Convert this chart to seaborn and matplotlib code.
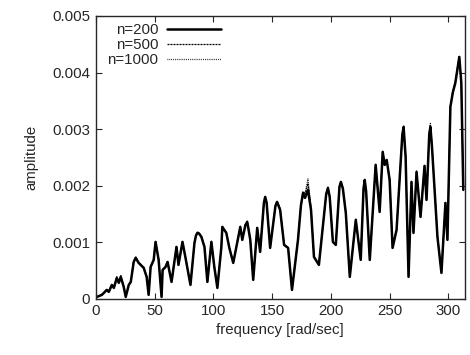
import numpy as np
import pandas as pd
import matplotlib
matplotlib.use("Agg")
import matplotlib.pyplot as plt
import seaborn as sns

# frequency [rad/sec] sample points
freq = [0.8, 5.1, 9.3, 11.0, 13.6, 15.3, 17.8, 19.5, 21.2, 23.7, 25.4, 28.0, 29.7,
        32.2, 33.9, 36.4, 40.7, 43.2, 44.9, 46.6, 49.2, 50.8, 53.4, 55.9, 56.8,
        59.3, 61.0, 64.4, 68.6, 70.3, 73.7, 76.3, 80.5, 83.9, 85.2, 86.4, 88.0,
        89.8, 92.4, 94.9, 98.3, 100.8, 103.4, 106.8, 107.6, 108.9, 111.0, 113.6,
        116.9, 122.9, 124.6, 127.2, 128.8, 130.0, 131.4, 133.9, 137.3, 139.8,
        143.0, 144.1, 145.3, 148.3, 152.8, 154.2, 156.8, 160.2, 163.6, 166.9,
        172.0, 174.5, 176.3, 178.0, 180.5, 183.1, 185.6, 189.8, 196.0, 197.5,
        199.0, 201.7, 204.2, 207.3, 208.5, 210.2, 212.7, 216.1, 221.2, 225.4,
        227.8, 228.8, 230.0, 233.1, 238.1, 241.5, 244.1, 245.8, 247.5, 250.0,
        252.5, 255.9, 260.8, 261.9, 263.6, 266.1, 268.6, 270.3, 272.9, 276.3,
        279.7, 281.4, 283.7, 284.7, 286.0, 290.7, 294.1, 297.5, 299.2, 301.7,
        303.8, 305.9, 309.3, 311.0, 312.7]

amp_200 = [0.000035, 0.000071, 0.000159, 0.000124, 0.000247, 0.000194, 0.000371, 0.000283,
           0.000389, 0.000212, 0.000035, 0.000247, 0.000300, 0.000654, 0.000724, 0.000636,
           0.000548, 0.000389, 0.000071, 0.000565, 0.000689, 0.001007, 0.000689, 0.000035,
           0.000512, 0.000565, 0.000654, 0.000300, 0.000919, 0.000601, 0.001007, 0.000724,
           0.000247, 0.000989, 0.001120, 0.001166, 0.001150, 0.001095, 0.000919, 0.000300,
           0.001007, 0.000565, 0.000194, 0.000919, 0.001272, 0.001230, 0.001166, 0.000900,
           0.000636, 0.001272, 0.001043, 0.001300, 0.001361, 0.001220, 0.001043, 0.000336,
           0.001255, 0.000831, 0.001700, 0.001802, 0.001700, 0.000901, 0.001640, 0.001714,
           0.001573, 0.000954, 0.000901, 0.000159, 0.001043, 0.001650, 0.001873, 0.001785,
           0.001926, 0.001573, 0.000742, 0.000601, 0.001850, 0.001961, 0.001800, 0.001007,
           0.000954, 0.001980, 0.002067, 0.001950, 0.001520, 0.000389, 0.001396, 0.000690,
           0.001950, 0.002103, 0.001900, 0.000689, 0.002368, 0.001537, 0.002598, 0.002368,
           0.002456, 0.002103, 0.000901, 0.001219, 0.002900, 0.003039, 0.002509, 0.000389,
           0.002067, 0.001166, 0.002244, 0.001449, 0.002350, 0.001749, 0.002900, 0.003039,
           0.002700, 0.001095, 0.000459, 0.001696, 0.001043, 0.003392, 0.003650, 0.003816,
           0.004276, 0.003816, 0.001926]

amp_500 = [0.000035, 0.000075, 0.000165, 0.000130, 0.000255, 0.000200, 0.000385, 0.000295,
           0.000410, 0.000220, 0.000040, 0.000250, 0.000305, 0.000665, 0.000740, 0.000645,
           0.000555, 0.000395, 0.000075, 0.000570, 0.000695, 0.001015, 0.000695, 0.000040,
           0.000515, 0.000570, 0.000660, 0.000305, 0.000925, 0.000605, 0.001015, 0.000730,
           0.000250, 0.000995, 0.001130, 0.001180, 0.001160, 0.001105, 0.000925, 0.000305,
           0.001015, 0.000570, 0.000200, 0.000925, 0.001285, 0.001240, 0.001175, 0.000905,
           0.000640, 0.001280, 0.001050, 0.001310, 0.001370, 0.001230, 0.001050, 0.000340,
           0.001260, 0.000835, 0.001710, 0.001810, 0.001710, 0.000905, 0.001650, 0.001725,
           0.001590, 0.000960, 0.000905, 0.000165, 0.001050, 0.001660, 0.001885, 0.001840,
           0.002040, 0.001600, 0.000745, 0.000605, 0.001860, 0.001970, 0.001810, 0.001015,
           0.000960, 0.001990, 0.002075, 0.001960, 0.001525, 0.000395, 0.001405, 0.000695,
           0.001960, 0.002110, 0.001910, 0.000695, 0.002375, 0.001545, 0.002605, 0.002380,
           0.002465, 0.002110, 0.000905, 0.001225, 0.002910, 0.003050, 0.002520, 0.000395,
           0.002075, 0.001175, 0.002255, 0.001455, 0.002360, 0.001760, 0.002930, 0.003080,
           0.002720, 0.001105, 0.000465, 0.001705, 0.001050, 0.003400, 0.003660, 0.003830,
           0.004285, 0.003830, 0.001935]

amp_1000 = [0.000035, 0.000078, 0.000168, 0.000132, 0.000258, 0.000203, 0.000390, 0.000300,
            0.000420, 0.000222, 0.000042, 0.000252, 0.000308, 0.000668, 0.000748, 0.000648,
            0.000558, 0.000398, 0.000078, 0.000572, 0.000698, 0.001018, 0.000698, 0.000042,
            0.000518, 0.000572, 0.000662, 0.000308, 0.000928, 0.000608, 0.001018, 0.000732,
            0.000252, 0.000998, 0.001135, 0.001185, 0.001165, 0.001108, 0.000928, 0.000308,
            0.001018, 0.000572, 0.000202, 0.000928, 0.001290, 0.001245, 0.001178, 0.000908,
            0.000642, 0.001282, 0.001052, 0.001312, 0.001372, 0.001232, 0.001052, 0.000342,
            0.001262, 0.000838, 0.001712, 0.001812, 0.001712, 0.000908, 0.001652, 0.001728,
            0.001595, 0.000962, 0.000908, 0.000168, 0.001052, 0.001662, 0.001890, 0.001870,
            0.002120, 0.001620, 0.000748, 0.000608, 0.001862, 0.001972, 0.001812, 0.001018,
            0.000962, 0.001992, 0.002078, 0.001962, 0.001528, 0.000398, 0.001408, 0.000698,
            0.001962, 0.002112, 0.001912, 0.000698, 0.002378, 0.001548, 0.002608, 0.002382,
            0.002468, 0.002112, 0.000908, 0.001228, 0.002915, 0.003055, 0.002522, 0.000398,
            0.002078, 0.001178, 0.002258, 0.001458, 0.002362, 0.001762, 0.002950, 0.003100,
            0.002730, 0.001108, 0.000468, 0.001708, 0.001052, 0.003405, 0.003665, 0.003835,
            0.004290, 0.003835, 0.001938]

series_labels = ["n=200", "n=500", "n=1000"]
x_ticks = [0, 50, 100, 150, 200, 250, 300]
y_ticks = [0, 0.001, 0.002, 0.003, 0.004, 0.005]
y_tick_labels = ["0", "0.001", "0.002", "0.003", "0.004", "0.005"]

sns.set_style("ticks")
plt.rcParams['font.family'] = ['Liberation Sans', 'DejaVu Sans']
FS = 10.8

fig = plt.figure(figsize=(4.7, 3.55), dpi=100)
ax = fig.add_axes([0.204, 0.158, 0.785, 0.797])

styles = [dict(linestyle='-', linewidth=1.8),
          dict(linestyle=(0, (1.6, 0.8)), linewidth=0.9),
          dict(linestyle=(0, (0.6, 0.9)), linewidth=0.9)]
amps = [amp_200, amp_500, amp_1000]
# finer lines first, solid on top
for i in [2, 1, 0]:
    df = pd.DataFrame({'freq': freq, 'amp': amps[i]})
    sns.lineplot(data=df, x='freq', y='amp', ax=ax, color='black',
                 label=series_labels[i], sort=False, **styles[i])

handles, labels = ax.get_legend_handles_labels()
lookup = dict(zip(labels, handles))
ax.legend([lookup[l] for l in series_labels], series_labels, loc='upper left',
          frameon=False, markerfirst=False, handlelength=3.6, handletextpad=0.6,
          labelspacing=0.05, borderaxespad=0.1, bbox_to_anchor=(0.01, 1.0),
          fontsize=FS)

ax.set_xlim(0, 314)
ax.set_ylim(0, 0.005)
ax.set_xticks(x_ticks)
ax.set_yticks(y_ticks)
ax.set_yticklabels(y_tick_labels)
ax.tick_params(direction='in', top=True, right=True, length=4, width=0.8,
               labelsize=FS, pad=4)
for s in ax.spines.values():
    s.set_linewidth(1.0)
    s.set_visible(True)

ax.set_xlabel('frequency [rad/sec]', fontsize=FS, labelpad=3)
ax.set_ylabel('amplitude', fontsize=FS, labelpad=10)

fig.savefig('out.png', dpi=100)
